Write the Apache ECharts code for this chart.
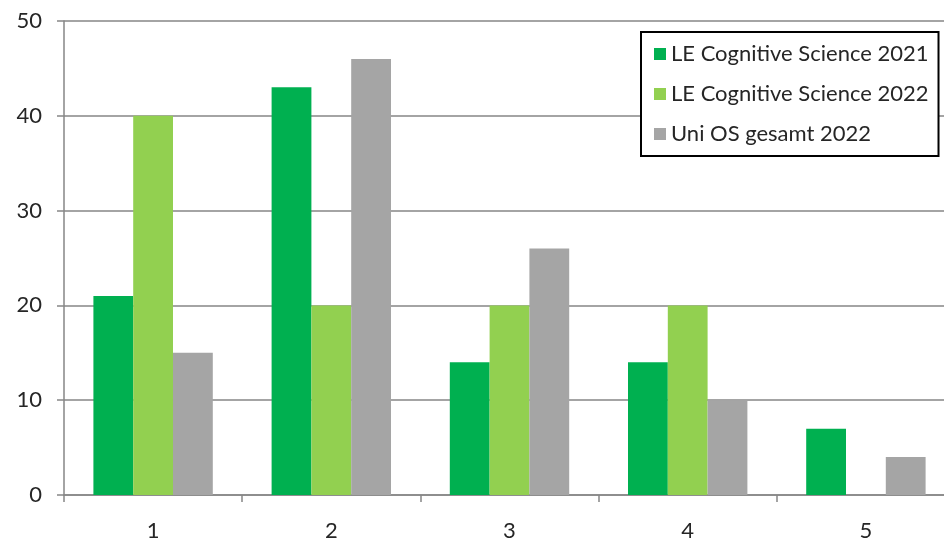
<!DOCTYPE html>
<html>
<head>
<meta charset="utf-8">
<script src="https://cdn.jsdelivr.net/npm/echarts@6/dist/echarts.min.js"></script>
<style>html,body{margin:0;padding:0;background:#fff;}#c{width:944px;height:540px;}</style>
</head>
<body>
<div id="c"></div>
<script>
const categories = ['1', '2', '3', '4', '5'];
const seriesNames = ['LE Cognitive Science 2021', 'LE Cognitive Science 2022', 'Uni OS gesamt 2022'];
const cs2021 = [21, 43, 14, 14, 7];
const cs2022 = [40, 20, 20, 20, 0];
const uniOs2022 = [15, 46, 26, 10, 4];
const colors = ['#00B050', '#92D050', '#A5A5A5'];

const chart = echarts.init(document.getElementById('c'));
const font = 'Lato, "Open Sans", sans-serif';
const mk = (name, data, color) => ({
  name, type: 'bar', data,
  barGap: '0%', barCategoryGap: '33%',
  itemStyle: { color },
  emphasis: { disabled: true }
});
chart.setOption({
  animation: false,
  textStyle: { fontFamily: font },
  grid: { left: 64, top: 21, height: 474, width: 891, containLabel: false, outerBoundsMode: 'none' },
  legend: {
    orient: 'vertical', left: 641, top: 32,
    data: seriesNames,
    backgroundColor: '#fff', borderColor: '#000', borderWidth: 2,
    padding: [11, 10, 11, 13],
    itemWidth: 12, itemHeight: 12, itemGap: 18,
    icon: 'rect',
    textStyle: { fontSize: 22, color: '#262626', fontFamily: font }
  },
  xAxis: {
    type: 'category', data: categories,
    axisLine: { lineStyle: { color: '#868686', width: 1.5 } },
    axisTick: { show: true, length: 7, lineStyle: { color: '#868686', width: 1.5 } },
    axisLabel: { fontSize: 22, color: '#262626', margin: 25, fontFamily: font }
  },
  yAxis: {
    type: 'value', min: 0, max: 50, interval: 10,
    axisLine: { show: true, lineStyle: { color: '#868686', width: 1.5 } },
    axisTick: { show: true, length: 7, lineStyle: { color: '#868686', width: 1.5 } },
    splitLine: { lineStyle: { color: '#868686', width: 1.5 } },
    axisLabel: { fontSize: 22, color: '#262626', margin: 22, fontFamily: font }
  },
  series: [
    mk(seriesNames[0], cs2021, colors[0]),
    mk(seriesNames[1], cs2022, colors[1]),
    mk(seriesNames[2], uniOs2022, colors[2])
  ]
});
</script>
</body>
</html>
